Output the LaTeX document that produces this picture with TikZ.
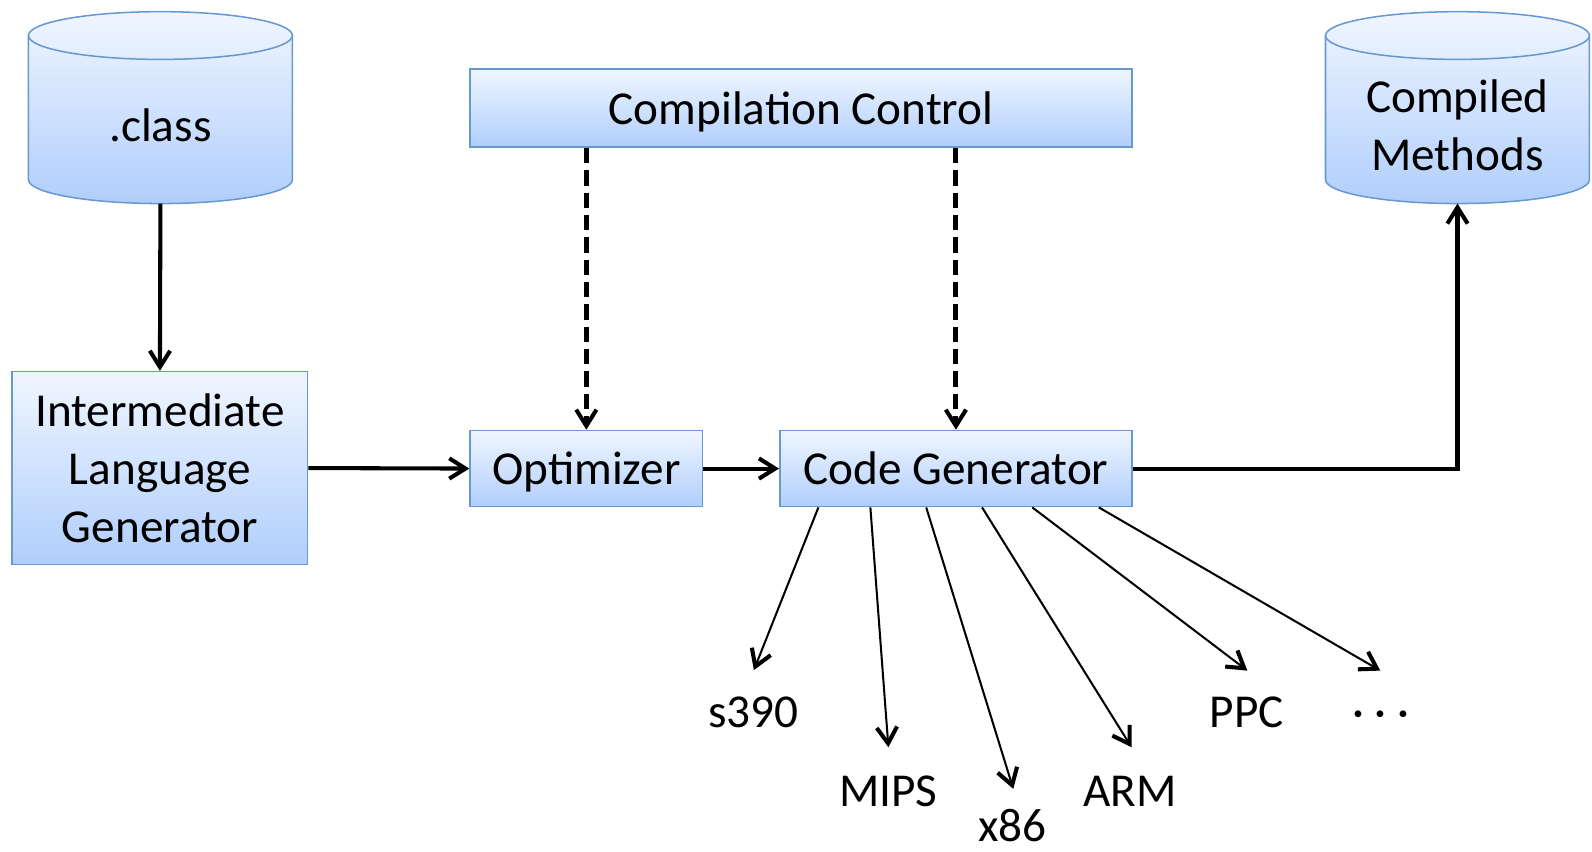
\documentclass[tikz,border=0pt]{standalone}
\usepackage{fontspec}
\setmainfont{Carlito}
\usetikzlibrary{arrows.meta,calc}
\definecolor{boxtop}{RGB}{240,246,255}
\definecolor{boxbot}{RGB}{176,206,252}
\definecolor{boxline}{RGB}{104,152,208}
\tikzset{
  every node/.style={font=\fontsize{23.25}{28.5}\selectfont},
  box/.style={draw=boxline, line width=0.75pt, top color=boxtop, bottom color=boxbot, inner sep=0pt, align=center},
  oneline/.style={box, text depth=0pt},
  dbline/.style={draw=boxline, line width=0.75pt},
  dbfill/.style={dbline, top color=boxtop, bottom color=boxbot},
  flow/.style={line width=2pt, -{Straight Barb[length=8pt,width=10pt,line width=2pt]}},
  ctrl/.style={flow, line width=2.4pt, dash pattern=on 7.5pt off 3.5pt},
  target/.style={line width=1pt, -{Straight Barb[length=8pt,width=10pt,line width=2pt]}},
  tag/.style={anchor=base, inner sep=0pt}
}
% storage drum: (centre x, centre y){name}{text}
\def\storage(#1,#2)#3#4{%
	\shade[dbfill] (#1+130,#2-71) arc[start angle=0, end angle=-180, x radius=130, y radius=23.5] -- ++(0,142) arc[start angle=180, end angle=0, x radius=130, y radius=23.5] -- cycle;
	\draw[dbline] (#1-130,#2-71) arc[start angle=180, end angle=0, x radius=130, y radius=23.5];
	\node[inner sep=0pt, align=center] (#3) at (#1,#2+17) {#4};
	\coordinate (#3-bottom) at (#1,#2+94.5);
}

\begin{document}
\begin{tikzpicture}[x=0.5pt,y=-0.5pt]
			%%%%% START %%%%%
			\useasboundingbox (0,0) rectangle (1568,838.2);
			
			\storage(158,106){class}{.class}
			\storage(1435.5,106){methods}{Compiled\\Methods}
			
			\node[oneline, minimum width=326pt, minimum height=38.5pt] (control) at (789,106.5) {Compilation Control};
			\node[box, minimum width=145.5pt, minimum height=95pt] (ilgen) at (157.5,461) {Intermediate\\Language\\Generator};
			\node[oneline, minimum width=114.5pt, minimum height=37.5pt] (opt) at (577.5,461.5) {Optimizer};
			\node[oneline, minimum width=173.5pt, minimum height=37.5pt] (codegen) at (941.5,461.5) {Code Generator};
			
			\draw[flow] (class-bottom) -- (ilgen.north);
			\draw[flow] (ilgen.east) -- (opt.west);
			\draw[flow] (opt.east) -- (codegen.west);
			\draw[flow] (codegen.east) -| (methods-bottom);
			
			\draw[ctrl] (opt.north |- control.south) -- (opt.north);
			\draw[ctrl] (codegen.north |- control.south) -- (codegen.north);
			
			% targets
			\node[tag] (s390) at (742,717) {s390};
			\node[tag] (mips) at (875,794) {MIPS};
			\node[tag] (x86) at (997,829) {x86};
			\node[tag] (arm) at (1113,794) {ARM};
			\node[tag] (ppc) at (1228,717) {PPC};
			\node[tag] (more) at (1360,717) {· · ·};
			
			\coordinate (s390-tip) at (742.5,660);
			\coordinate (mips-tip) at (875,736);
			\coordinate (x86-tip) at (998,777);
			\coordinate (arm-tip) at (1114.5,736);
			\coordinate (ppc-tip) at (1228.5,660.5);
			\coordinate (more-tip) at (1359.5,660.5);
			
			\foreach \dx/\tgt in {38.8/s390,90/mips,145/x86,200/arm,249.5/ppc,315/more}
				\draw[target] ($(codegen.south west)+(\dx,0)$) -- (\tgt-tip);
			
			%%%%% END %%%%%
\end{tikzpicture}
\end{document}
